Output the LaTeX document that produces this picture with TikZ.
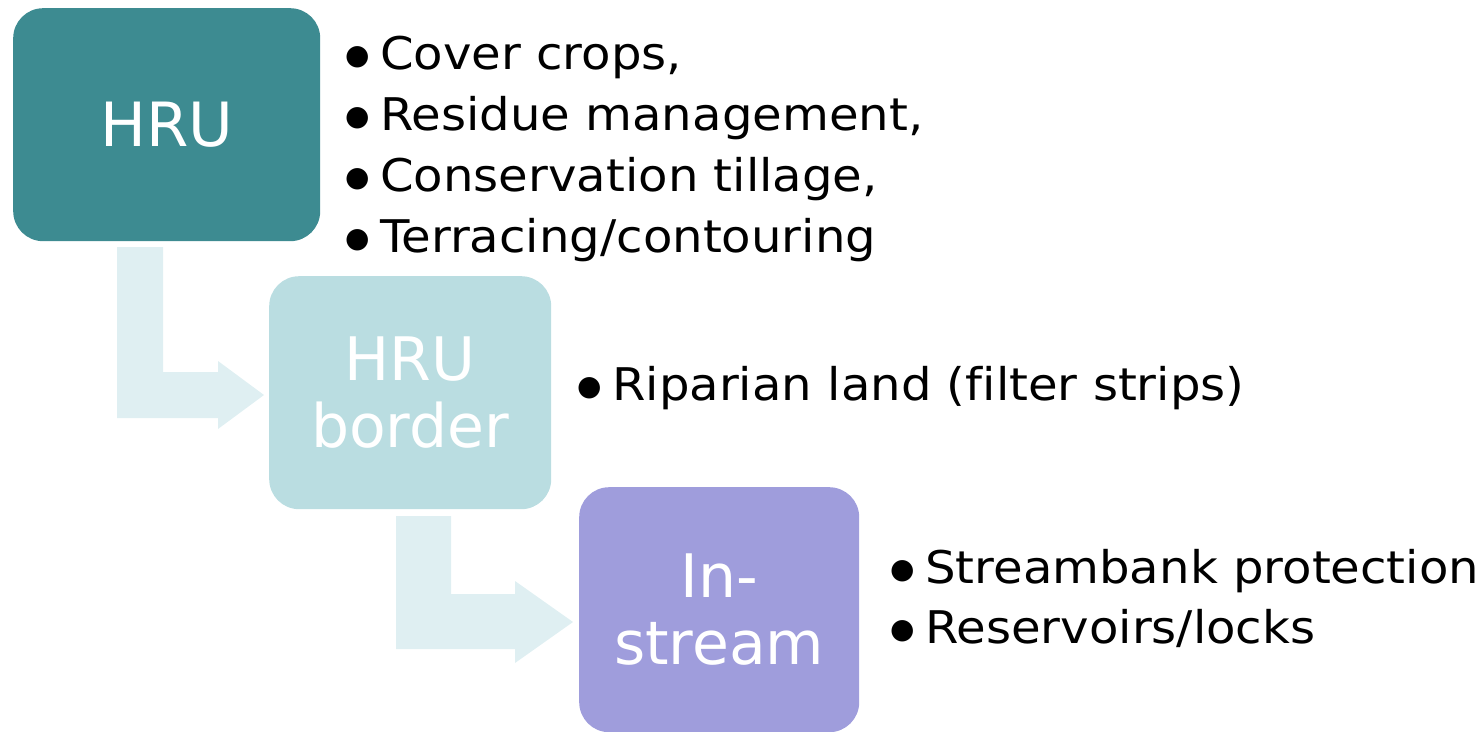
\documentclass[tikz,border=0pt]{standalone}
\usepackage{fontspec}
\setmainfont{DejaVu Sans}
\newfontfamily\itemfont[FakeStretch=1.07,Ligatures=NoCommon]{DejaVu Sans}
\newfontfamily\dotfont{DejaVu Sans}
\definecolor{hruc}{HTML}{3D8B91}
\definecolor{borderc}{HTML}{BADDE1}
\definecolor{streamc}{HTML}{9F9DDC}
\definecolor{arrowc}{HTML}{DFEFF2}
\newcommand{\blt}{\makebox[35pt][l]{\raisebox{5pt}{\dotfont\fontsize{28}{28}\selectfont ●}}}
\begin{document}
\begin{tikzpicture}[x=1pt,y=-1pt,
  stagebox/.style={rectangle,rounded corners=30pt,inner sep=0pt,text=white,align=center,anchor=north west},
  itemtext/.style={anchor=base west,inner sep=0pt,font=\itemfont\fontsize{45}{61}\selectfont,text=black},
  flowarrow/.style={fill=arrowc,draw=none}]
\useasboundingbox (0,0) rectangle (1483,731);
\begin{scope}
\clip (0,0) rectangle (1483,731);
% arrows
\fill[flowarrow] (117,247) -- (163,247) -- (163,372) -- (218,372) -- (218,361) -- (264,395) -- (218,429) -- (218,418) -- (117,418) -- cycle;
\fill[flowarrow] (396,516) -- (451,516) -- (451,594) -- (515,594) -- (515,581) -- (573,622) -- (515,663) -- (515,649) -- (396,649) -- cycle;
% boxes
\node[stagebox,fill=hruc,minimum width=307pt,minimum height=233pt,font=\fontsize{61}{67}\selectfont] (hru) at (13,8) {HRU};
\node[stagebox,fill=borderc,minimum width=282pt,minimum height=233pt,font=\fontsize{60}{67}\selectfont] (border) at (269,276) {HRU\\border};
\node[stagebox,fill=streamc,minimum width=280pt,minimum height=245pt,font=\fontsize{60}{67}\selectfont] (stream) at (579,487) {In-\\stream};
\end{scope}
% bullet lists
\node[itemtext] (i1) at (345,69) {\blt Cover crops,};
\node[itemtext] (i2) at (345,130) {\blt Residue management,};
\node[itemtext] (i3) at (345,191) {\blt Conservation tillage,};
\node[itemtext] (i4) at (345,252) {\blt Terracing/contouring};
\node[itemtext] (j1) at (577,400) {\blt Riparian land (filter strips)};
\node[itemtext] (k1) at (890,583) {\blt Streambank protection};
\node[itemtext] (k2) at (890,643) {\blt Reservoirs/locks};
\end{tikzpicture}
\end{document}
